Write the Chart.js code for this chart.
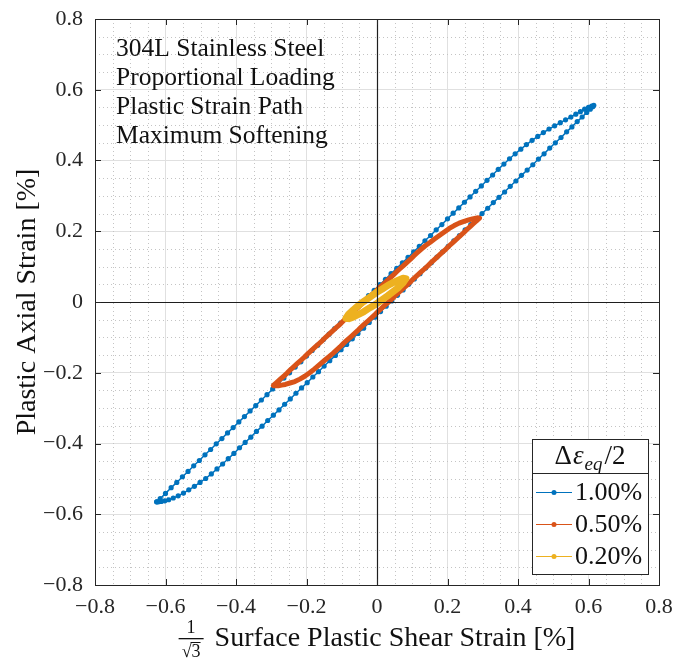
<!DOCTYPE html>
<html><head><meta charset="utf-8">
<script src="https://cdn.jsdelivr.net/npm/chart.js@4.4.1/dist/chart.umd.min.js"></script>
<style>html,body{margin:0;padding:0;background:#fff;}#wrap{width:678px;height:661px;}</style>
</head><body><div id="wrap"><canvas id="c" width="678" height="661"></canvas></div>
<script>
// ---- data ----
const seriesNames = ['1.00%', '0.50%', '0.20%'];
const seriesColors = ['#0072BD', '#D95319', '#EDB120'];
const textLines = ['304L Stainless Steel', 'Proportional Loading', 'Plastic Strain Path', 'Maximum Softening'];
const xTitle = 'Surface Plastic Shear Strain [%]';
const yTitle = 'Plastic Axial Strain [%]';

const blueUp = [[-0.625,-0.565],[-0.615,-0.556],[-0.600,-0.541],[-0.584,-0.525],[-0.568,-0.510],[-0.552,-0.494],[-0.536,-0.479],[-0.520,-0.463],[-0.504,-0.448],[-0.488,-0.432],[-0.472,-0.417],[-0.456,-0.401],[-0.440,-0.386],[-0.424,-0.370],[-0.408,-0.355],[-0.392,-0.339],[-0.376,-0.324],[-0.360,-0.308],[-0.344,-0.293],[-0.328,-0.277],[-0.312,-0.262],[-0.296,-0.246],[-0.280,-0.231],[-0.264,-0.215],[-0.248,-0.200],[-0.232,-0.184],[-0.216,-0.169],[-0.200,-0.153],[-0.184,-0.137],[-0.168,-0.122],[-0.152,-0.106],[-0.136,-0.091],[-0.120,-0.075],[-0.104,-0.060],[-0.088,-0.044],[-0.072,-0.029],[-0.056,-0.013],[-0.040,0.002],[-0.024,0.018],[-0.008,0.033],[0.008,0.049],[0.024,0.064],[0.040,0.080],[0.056,0.095],[0.072,0.111],[0.088,0.126],[0.104,0.142],[0.120,0.157],[0.136,0.173],[0.152,0.188],[0.168,0.204],[0.184,0.219],[0.200,0.235],[0.216,0.251],[0.232,0.266],[0.248,0.282],[0.264,0.297],[0.280,0.313],[0.296,0.328],[0.312,0.344],[0.328,0.359],[0.344,0.375],[0.360,0.390],[0.376,0.405],[0.392,0.419],[0.408,0.432],[0.424,0.445],[0.440,0.457],[0.456,0.468],[0.472,0.479],[0.488,0.489],[0.504,0.498],[0.520,0.507],[0.535,0.515],[0.550,0.523],[0.564,0.531],[0.577,0.538],[0.589,0.545],[0.600,0.550],[0.609,0.554],[0.615,0.556]];
const blueDown = [[0.612,0.552],[0.605,0.545],[0.595,0.536],[0.582,0.523],[0.568,0.510],[0.553,0.495],[0.538,0.481],[0.522,0.465],[0.506,0.450],[0.490,0.435],[0.474,0.419],[0.458,0.404],[0.442,0.388],[0.426,0.373],[0.410,0.358],[0.394,0.342],[0.378,0.327],[0.362,0.311],[0.346,0.296],[0.330,0.281],[0.314,0.265],[0.298,0.250],[0.282,0.234],[0.266,0.219],[0.250,0.204],[0.234,0.188],[0.218,0.173],[0.202,0.157],[0.186,0.142],[0.170,0.127],[0.154,0.111],[0.138,0.096],[0.122,0.080],[0.106,0.065],[0.090,0.050],[0.074,0.034],[0.058,0.019],[0.042,0.003],[0.026,-0.012],[0.010,-0.027],[-0.006,-0.043],[-0.022,-0.058],[-0.038,-0.074],[-0.054,-0.089],[-0.070,-0.104],[-0.086,-0.120],[-0.102,-0.135],[-0.118,-0.151],[-0.134,-0.166],[-0.150,-0.181],[-0.166,-0.197],[-0.182,-0.212],[-0.198,-0.228],[-0.214,-0.243],[-0.230,-0.258],[-0.246,-0.274],[-0.262,-0.289],[-0.278,-0.305],[-0.294,-0.320],[-0.310,-0.335],[-0.326,-0.351],[-0.342,-0.366],[-0.358,-0.382],[-0.374,-0.397],[-0.390,-0.412],[-0.406,-0.428],[-0.422,-0.443],[-0.438,-0.458],[-0.454,-0.472],[-0.470,-0.486],[-0.486,-0.499],[-0.502,-0.510],[-0.518,-0.521],[-0.534,-0.531],[-0.549,-0.540],[-0.564,-0.548],[-0.578,-0.554],[-0.591,-0.559],[-0.602,-0.562],[-0.612,-0.564],[-0.620,-0.565],[-0.625,-0.565]];

const orangeUp = [[-0.294,-0.236],[-0.285,-0.228],[-0.275,-0.219],[-0.265,-0.210],[-0.255,-0.201],[-0.245,-0.191],[-0.235,-0.182],[-0.225,-0.173],[-0.215,-0.164],[-0.205,-0.155],[-0.195,-0.145],[-0.185,-0.136],[-0.175,-0.127],[-0.165,-0.118],[-0.155,-0.109],[-0.145,-0.099],[-0.135,-0.090],[-0.125,-0.081],[-0.115,-0.072],[-0.105,-0.063],[-0.095,-0.053],[-0.085,-0.044],[-0.075,-0.035],[-0.065,-0.026],[-0.055,-0.017],[-0.045,-0.007],[-0.035,0.002],[-0.025,0.011],[-0.015,0.020],[-0.005,0.029],[0.005,0.039],[0.015,0.048],[0.025,0.057],[0.035,0.066],[0.045,0.075],[0.055,0.085],[0.065,0.094],[0.075,0.103],[0.085,0.112],[0.095,0.121],[0.105,0.131],[0.115,0.140],[0.125,0.149],[0.137,0.159],[0.150,0.168],[0.163,0.178],[0.177,0.188],[0.191,0.198],[0.205,0.208],[0.219,0.216],[0.233,0.223],[0.247,0.228],[0.260,0.232],[0.271,0.235],[0.280,0.237],[0.287,0.238],[0.291,0.237]];
const orangeDown = [[0.288,0.235],[0.282,0.229],[0.274,0.222],[0.265,0.214],[0.255,0.205],[0.245,0.195],[0.235,0.186],[0.225,0.177],[0.215,0.168],[0.205,0.159],[0.195,0.149],[0.185,0.140],[0.175,0.131],[0.165,0.122],[0.155,0.113],[0.145,0.103],[0.135,0.094],[0.125,0.085],[0.115,0.076],[0.105,0.067],[0.095,0.057],[0.085,0.048],[0.075,0.039],[0.065,0.030],[0.055,0.021],[0.045,0.011],[0.035,0.002],[0.025,-0.007],[0.015,-0.016],[0.005,-0.025],[-0.005,-0.035],[-0.015,-0.044],[-0.025,-0.053],[-0.035,-0.062],[-0.045,-0.071],[-0.055,-0.081],[-0.065,-0.090],[-0.075,-0.099],[-0.085,-0.108],[-0.095,-0.117],[-0.105,-0.127],[-0.115,-0.136],[-0.125,-0.145],[-0.137,-0.155],[-0.150,-0.166],[-0.163,-0.177],[-0.177,-0.189],[-0.191,-0.200],[-0.205,-0.210],[-0.219,-0.218],[-0.233,-0.225],[-0.247,-0.229],[-0.260,-0.233],[-0.271,-0.235],[-0.280,-0.237],[-0.288,-0.237],[-0.294,-0.236]];

const yellowUp = [[-0.088,-0.046],[-0.080,-0.034],[-0.068,-0.023],[-0.054,-0.011],[-0.037,0.002],[-0.020,0.014],[-0.003,0.026],[0.014,0.036],[0.031,0.047],[0.048,0.056],[0.062,0.062],[0.074,0.067],[0.082,0.066]];
const yellowDown = [[0.074,0.054],[0.062,0.042],[0.048,0.031],[0.031,0.018],[0.014,0.006],[-0.003,-0.006],[-0.020,-0.016],[-0.037,-0.027],[-0.054,-0.036],[-0.068,-0.043],[-0.080,-0.047],[-0.088,-0.046]];

const axisMin = -0.8, axisMax = 0.8, axisStep = 0.2;

// ---- chart ----
const F = "'Liberation Serif', 'Times New Roman', serif";
const INK = '#262626';
const pts = a => a.map(p => ({x: p[0], y: p[1]}));
const fmt = v => { const r = Math.round(v * 10) / 10; return r === 0 ? '0' : (r < 0 ? '\u2212' : '') + Math.abs(r).toFixed(1); };

function minorValues(scale) {
  const t = scale.ticks.map(k => k.value), out = [];
  for (let i = 0; i < t.length - 1; i++) { const d = (t[i + 1] - t[i]) / 4; for (let j = 1; j < 4; j++) out.push(t[i] + j * d); }
  return out;
}

const decor = {
  id: 'decor',
  beforeDatasetsDraw(chart) {
    const {ctx, chartArea: a, scales: {x, y}} = chart;
    ctx.save();
    ctx.strokeStyle = '#c4c4c4'; ctx.lineWidth = 1; ctx.setLineDash([1, 3]);
    minorValues(x).forEach(v => { const p = Math.round(x.getPixelForValue(v)) + 0.5; ctx.beginPath(); ctx.moveTo(p, a.top); ctx.lineTo(p, a.bottom); ctx.stroke(); });
    minorValues(y).forEach(v => { const p = Math.round(y.getPixelForValue(v)) + 0.5; ctx.beginPath(); ctx.moveTo(a.left, p); ctx.lineTo(a.right, p); ctx.stroke(); });
    ctx.restore();
  },
  afterDatasetsDraw(chart) {
    const {ctx, chartArea: a, scales: {x, y}} = chart;
    ctx.save();
    ctx.strokeStyle = '#1e1e1e'; ctx.lineWidth = 1.2;
    const x0 = Math.round(x.getPixelForValue(0)) + 0.5, y0 = Math.round(y.getPixelForValue(0)) + 0.5;
    ctx.beginPath(); ctx.moveTo(x0, a.top); ctx.lineTo(x0, a.bottom); ctx.moveTo(a.left, y0); ctx.lineTo(a.right, y0); ctx.stroke();
    ctx.strokeStyle = INK; ctx.lineWidth = 1;
    ctx.strokeRect(Math.round(a.left) + 0.5, Math.round(a.top) + 0.5, Math.round(a.right - a.left), Math.round(a.bottom - a.top));
    const tl = 6;
    ctx.beginPath();
    x.ticks.forEach(t => { const p = Math.round(x.getPixelForValue(t.value)) + 0.5; ctx.moveTo(p, a.bottom); ctx.lineTo(p, a.bottom - tl); ctx.moveTo(p, a.top); ctx.lineTo(p, a.top + tl); });
    y.ticks.forEach(t => { const p = Math.round(y.getPixelForValue(t.value)) + 0.5; ctx.moveTo(a.left, p); ctx.lineTo(a.left + tl, p); ctx.moveTo(a.right, p); ctx.lineTo(a.right - tl, p); });
    ctx.stroke();
    ctx.restore();
  },
  afterDraw(chart) {
    const {ctx, chartArea: a} = chart;
    ctx.save();
    ctx.fillStyle = '#111';
    ctx.font = `25.5px ${F}`; ctx.textAlign = 'left'; ctx.textBaseline = 'alphabetic';
    textLines.forEach((s, i) => ctx.fillText(s, a.left + 21, a.top + 37 + i * 29));
    ctx.save();
    ctx.translate(28, (a.top + a.bottom) / 2);
    ctx.rotate(-Math.PI / 2);
    ctx.font = `28px ${F}`; ctx.textAlign = 'center'; ctx.textBaseline = 'middle';
    ctx.fillText(yTitle, 0, 0);
    ctx.restore();
    ctx.font = `28px ${F}`;
    const W = ctx.measureText(xTitle).width;
    const fracW = 25, gap = 11;
    const start = (a.left + a.right) / 2 - (fracW + gap + W) / 2;
    ctx.textAlign = 'left'; ctx.textBaseline = 'alphabetic';
    ctx.fillText(xTitle, start + fracW + gap, 646);
    ctx.font = `18px ${F}`; ctx.textAlign = 'center';
    ctx.fillText('1', start + fracW / 2, 633);
    ctx.fillRect(start, 638, fracW, 1.3);
    ctx.fillText('\u221A3', start + fracW / 2, 657);
    const sw = ctx.measureText('\u221A3').width, s3 = ctx.measureText('3').width;
    ctx.fillRect(start + fracW / 2 + sw / 2 - s3 - 1, 642, s3 + 1, 1);
    // legend
    const L = {l: a.right - 127, t: a.bottom - 146, r: a.right - 11, b: a.bottom - 11};
    ctx.fillStyle = '#fff'; ctx.fillRect(L.l, L.t, L.r - L.l, L.b - L.t);
    ctx.strokeStyle = INK; ctx.lineWidth = 1;
    ctx.strokeRect(Math.round(L.l) + 0.5, Math.round(L.t) + 0.5, Math.round(L.r - L.l), Math.round(L.b - L.t));
    ctx.beginPath(); ctx.moveTo(L.l, Math.round(L.t + 34) + 0.5); ctx.lineTo(L.r, Math.round(L.t + 34) + 0.5); ctx.stroke();
    ctx.fillStyle = '#111';
    const parts = [{t: '\u0394', f: `27px ${F}`, dy: 0, g: 1}, {t: '\u03B5', f: `italic 27px ${F}`, dy: 0, g: 1}, {t: 'eq', f: `italic 19px ${F}`, dy: 6, g: 2}, {t: '/2', f: `27px ${F}`, dy: 0, g: 0}];
    let tw = 0; parts.forEach(p => { ctx.font = p.f; p.w = ctx.measureText(p.t).width; tw += p.w + p.g; });
    let hx = (L.l + L.r) / 2 - tw / 2; ctx.textAlign = 'left';
    parts.forEach(p => { ctx.font = p.f; ctx.fillText(p.t, hx, L.t + 25 + p.dy); hx += p.w + p.g; });
    chart.data.datasets.forEach((ds, i) => {
      const ry = Math.round(L.t + 53 + i * 32) + 0.5;
      ctx.strokeStyle = ds.borderColor; ctx.lineWidth = 1;
      ctx.beginPath(); ctx.moveTo(L.l + 4, ry); ctx.lineTo(L.l + 40, ry); ctx.stroke();
      ctx.fillStyle = ds.borderColor; ctx.beginPath(); ctx.arc(L.l + 22, ry, 2.5, 0, Math.PI * 2); ctx.fill();
      ctx.fillStyle = '#111'; ctx.font = `26px ${F}`; ctx.textBaseline = 'middle';
      ctx.fillText(ds.label, L.l + 43, ry + 1);
      ctx.textBaseline = 'alphabetic';
    });
    ctx.restore();
  }
};

const scaleOpts = (isX) => ({
  type: 'linear', min: axisMin, max: axisMax,
  ticks: {stepSize: axisStep, font: {family: F, size: 22}, color: INK, padding: isX ? 9 : 12, maxRotation: 0, callback: fmt},
  grid: {color: '#e0e0e0', lineWidth: 1, drawTicks: false},
  border: {display: false},
  afterFit: s => {
    if (isX) s.height = 76; else s.width = 95;
    s.paddingLeft = 0; s.paddingRight = 0; s.paddingTop = 0; s.paddingBottom = 0;
  }
});

new Chart(document.getElementById('c'), {
  type: 'scatter',
  data: {
    datasets: [
      {label: seriesNames[0], data: pts(blueUp.concat(blueDown)), borderColor: seriesColors[0], backgroundColor: seriesColors[0], showLine: true, borderWidth: 1.5, pointRadius: 2.6, pointBorderWidth: 0, pointHoverRadius: 0, order: 3},
      {label: seriesNames[1], data: pts(orangeUp.concat(orangeDown)), borderColor: seriesColors[1], backgroundColor: seriesColors[1], showLine: true, borderWidth: 5, borderJoinStyle: 'round', borderCapStyle: 'round', pointRadius: 0, order: 2},
      {label: seriesNames[2], data: pts(yellowUp.concat(yellowDown)), borderColor: seriesColors[2], backgroundColor: seriesColors[2], showLine: true, borderWidth: 7, borderJoinStyle: 'round', borderCapStyle: 'round', pointRadius: 0, order: 1}
    ]
  },
  options: {
    responsive: false, animation: false, devicePixelRatio: 1,
    layout: {padding: {left: 0, right: 19, top: 19, bottom: 0}},
    plugins: {legend: {display: false}, tooltip: {enabled: false}},
    scales: {x: scaleOpts(true), y: scaleOpts(false)}
  },
  plugins: [decor]
});
</script></body></html>
